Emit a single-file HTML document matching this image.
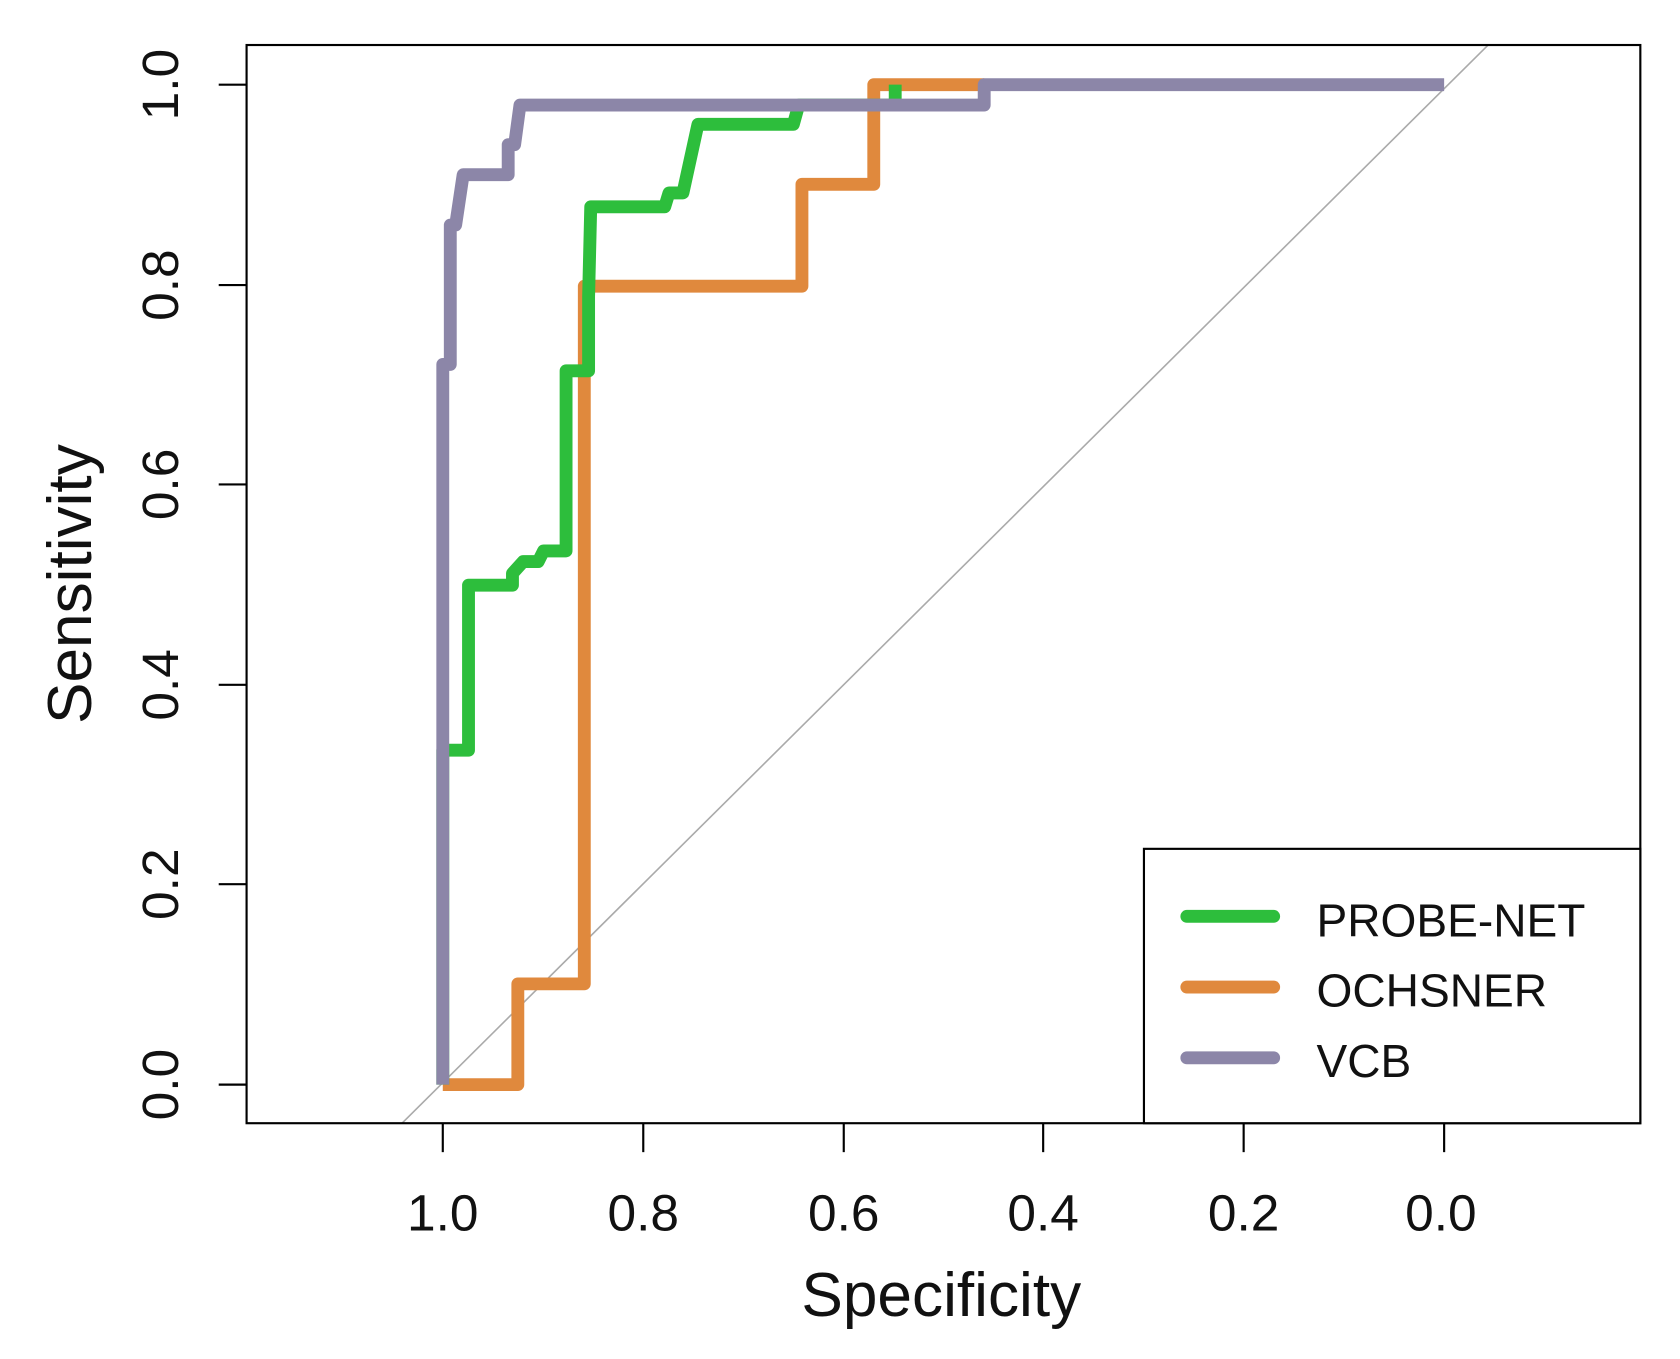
<!DOCTYPE html>
<html><head><style>html,body{margin:0;padding:0;background:#fff}svg{display:block}</style></head>
<body>
<svg width="1680" height="1359" viewBox="0 0 1567 1268" preserveAspectRatio="none" xmlns="http://www.w3.org/2000/svg" font-family="Liberation Sans, Arial, sans-serif">
<rect width="1567" height="1268" fill="#fff"/>
<line x1="375" y1="1048" x2="1388" y2="42" stroke="#aaa" stroke-width="1.5"/>
<g fill="none" stroke-width="12" stroke-linejoin="round">
<polyline stroke="#e0893d" points="413,1012 483,1012 483,918 545,918 545,267 748,267 748,172 815,172 815,79 918,79"/>
<polyline stroke="#2dbe3c" points="413,1012 413,700 437,700 437,546 478,546 478,535 488,524 502,524 507,514 528,514 528,346 549,346 549,277 551,193 620,193 624,180 637,180 651,116 740,116 745,98 835,98 835,79"/>
<polyline stroke="#8c86a8" points="413,1012 413,340 420,340 420,210 425,210 432,163 474,163 474,135 480,135 485,98 918,98 918,79 1347,79"/>
</g>
<rect x="230" y="42" width="1300" height="1006" fill="none" stroke="#000" stroke-width="2"/>
<g stroke="#000" stroke-width="2">
<line x1="204" y1="79" x2="230" y2="79"/><line x1="204" y1="266" x2="230" y2="266"/><line x1="204" y1="452" x2="230" y2="452"/><line x1="204" y1="639" x2="230" y2="639"/><line x1="204" y1="825" x2="230" y2="825"/><line x1="204" y1="1012" x2="230" y2="1012"/>
<line x1="413" y1="1048" x2="413" y2="1075"/><line x1="600" y1="1048" x2="600" y2="1075"/><line x1="787" y1="1048" x2="787" y2="1075"/><line x1="973" y1="1048" x2="973" y2="1075"/><line x1="1160" y1="1048" x2="1160" y2="1075"/><line x1="1347" y1="1048" x2="1347" y2="1075"/>
</g>
<g font-size="48" fill="#111" text-anchor="middle">
<text x="413" y="1148">1.0</text><text x="600" y="1148">0.8</text><text x="787" y="1148">0.6</text><text x="973" y="1148">0.4</text><text x="1160" y="1148">0.2</text><text x="1344" y="1148">0.0</text>
<g transform="translate(166,0)">
<text transform="translate(0,79) rotate(-90)">1.0</text><text transform="translate(0,266) rotate(-90)">0.8</text><text transform="translate(0,452) rotate(-90)">0.6</text><text transform="translate(0,639) rotate(-90)">0.4</text><text transform="translate(0,825) rotate(-90)">0.2</text><text transform="translate(0,1012) rotate(-90)">0.0</text>
</g>
<text x="878" y="1228" font-size="58">Specificity</text>
<text transform="translate(85,545) rotate(-90)" font-size="58">Sensitivity</text>
</g>
<rect x="1067" y="792" width="463" height="256" fill="#fff" stroke="#000" stroke-width="2"/>
<g stroke-width="12" stroke-linecap="round">
<line x1="1107" y1="855" x2="1188" y2="855" stroke="#2dbe3c"/>
<line x1="1107" y1="921" x2="1188" y2="921" stroke="#e0893d"/>
<line x1="1107" y1="987" x2="1188" y2="987" stroke="#8c86a8"/>
</g>
<g font-size="43" fill="#111">
<text x="1228" y="874">PROBE-NET</text><text x="1228" y="939">OCHSNER</text><text x="1228" y="1005">VCB</text>
</g>
</svg>
</body></html>
